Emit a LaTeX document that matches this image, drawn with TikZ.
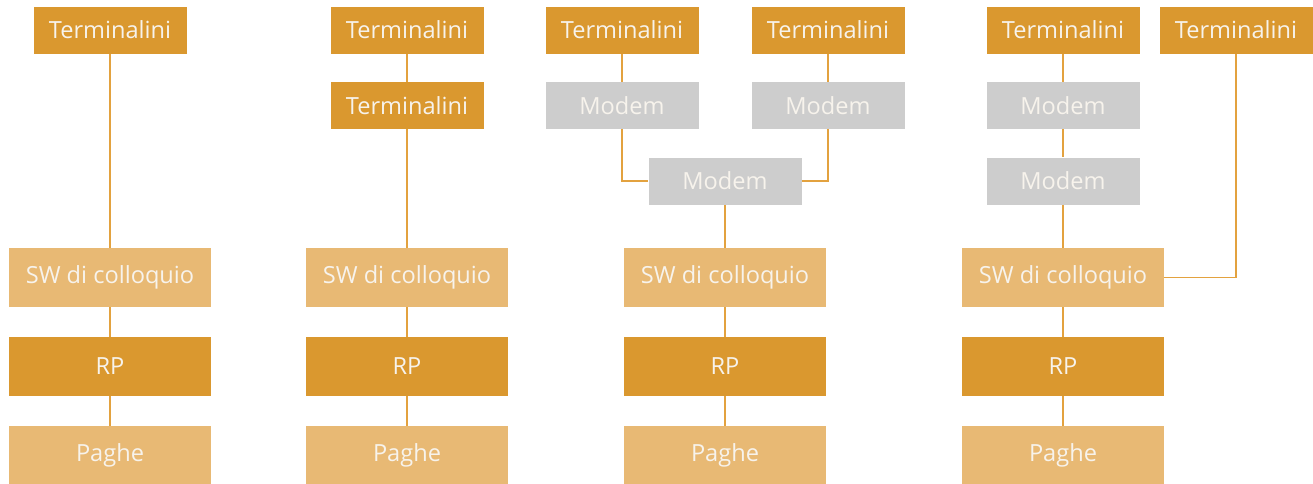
\documentclass[tikz,border=0pt]{standalone}
\usepackage{fontspec}
\setmainfont{Open Sans}
\usepackage{xcolor}
\definecolor{darkor}{HTML}{DA982F}
\definecolor{lightor}{HTML}{E8B974}
\definecolor{modemgray}{HTML}{CDCDCD}
\definecolor{linkor}{HTML}{E3A23F}
\definecolor{txt}{HTML}{F7F3EC}

\begin{document}
\begin{tikzpicture}[x=0.5pt, y=-0.5pt,
    box/.style={inner sep=0pt, text=txt, font=\fontsize{11.8}{13}\selectfont},
    term/.style={box, fill=darkor, minimum width=76.5pt, minimum height=23.5pt},
    modem/.style={box, fill=modemgray, minimum width=76.5pt, minimum height=23.5pt},
    sw/.style={box, fill=lightor, minimum width=101pt, minimum height=29.5pt},
    rp/.style={box, fill=darkor, minimum width=101pt, minimum height=29.5pt},
    paghe/.style={box, fill=lightor, minimum width=101pt, minimum height=29pt},
    link/.style={draw=linkor, line width=0.9pt}]
  % margins
  \useasboundingbox (0,0) rectangle (1313,483);

  % first column
  \node[term]  (t1)  at (110,30)    {Terminalini};
  \node[sw]    (sw1) at (110,277.5) {SW di colloquio};
  \node[rp]    (rp1) at (110,366.5) {RP};
  \node[paghe] (p1)  at (110,455)   {Paghe};

  % second column
  \node[term]  (t2)  at (407,30)    {Terminalini};
  \node[term]  (t2b) at (407,105.5) {Terminalini};
  \node[sw]    (sw2) at (407,277.5) {SW di colloquio};
  \node[rp]    (rp2) at (407,366.5) {RP};
  \node[paghe] (p2)  at (407,455)   {Paghe};

  % third column
  \node[term]  (t3a) at (622,30)    {Terminalini};
  \node[term]  (t3b) at (828,30)    {Terminalini};
  \node[modem] (m3a) at (622,105.5) {Modem};
  \node[modem] (m3b) at (828,105.5) {Modem};
  \node[modem] (m3c) at (725,181)   {Modem};
  \node[sw]    (sw3) at (725,277.5) {SW di colloquio};
  \node[rp]    (rp3) at (725,366.5) {RP};
  \node[paghe] (p3)  at (725,455)   {Paghe};

  % fourth column
  \node[term]  (t4a) at (1063,30)    {Terminalini};
  \node[term]  (t4b) at (1236,30)    {Terminalini};
  \node[modem] (m4a) at (1063,105.5) {Modem};
  \node[modem] (m4b) at (1063,181)   {Modem};
  \node[sw]    (sw4) at (1063,277.5) {SW di colloquio};
  \node[rp]    (rp4) at (1063,366.5) {RP};
  \node[paghe] (p4)  at (1063,455)   {Paghe};

  % links
  \draw[link] (t1) -- (sw1) (sw1) -- (rp1) (rp1) -- (p1);
  \draw[link] (t2) -- (t2b) (t2b) -- (sw2) (sw2) -- (rp2) (rp2) -- (p2);
  \draw[link] (t3a) -- (m3a) (t3b) -- (m3b);
  \draw[link] (m3a) |- (m3c);
  \draw[link] (m3b) |- (m3c);
  \draw[link] (m3c) -- (sw3);
  \draw[link] (sw3) -- (rp3) (rp3) -- (p3);
  \draw[link] (t4a) -- (m4a) (m4a) -- (m4b) (m4b) -- (sw4);
  \draw[link] (t4b) |- (sw4);
  \draw[link] (sw4) -- (rp4) (rp4) -- (p4);
\end{tikzpicture}
\end{document}
